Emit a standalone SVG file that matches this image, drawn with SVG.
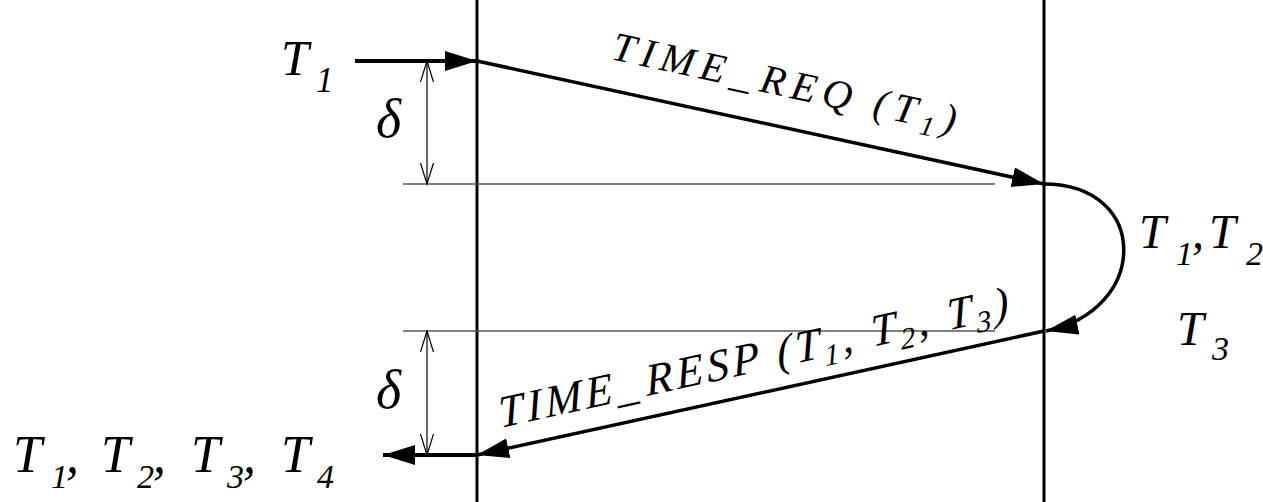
<svg xmlns="http://www.w3.org/2000/svg" width="1263" height="502" viewBox="0 0 1263 502">
<style>
.t{font-family:"Liberation Serif","Times New Roman",serif;font-style:italic;fill:#000}
.lab{font-size:41px;letter-spacing:6.5px}
.lab2{font-size:45px;letter-spacing:3.8px}
.thick{stroke:#000;stroke-width:4;fill:none}
.life{stroke:#000;stroke-width:3;fill:none}
.thin{stroke:#555;stroke-width:1.5;fill:none}
</style>
<defs>
<marker id="fa" markerUnits="userSpaceOnUse" markerWidth="34" markerHeight="22" refX="32" refY="10" orient="auto">
<path d="M0,0 L32,10 L0,20 z" fill="#000"/>
</marker>
<marker id="oa" markerUnits="userSpaceOnUse" markerWidth="24" markerHeight="16" refX="21" refY="7" orient="auto">
<path d="M0,0.5 L21,7 L0,13.5" fill="none" stroke="#000" stroke-width="1.2"/>
</marker>
<marker id="oas" markerUnits="userSpaceOnUse" markerWidth="24" markerHeight="16" refX="21" refY="7" orient="auto-start-reverse">
<path d="M0,0.5 L21,7 L0,13.5" fill="none" stroke="#000" stroke-width="1.2"/>
</marker>
</defs>
<g id="lifeline-client"><line class="life" x1="477" y1="0" x2="477" y2="502"/></g>
<g id="lifeline-server"><line class="life" x1="1044" y1="0" x2="1044" y2="502"/></g>
<g id="connectors">
<line class="thick" x1="355" y1="61" x2="477" y2="61" marker-end="url(#fa)"/>
<line class="thick" x1="477" y1="61" x2="1044" y2="184" marker-end="url(#fa)" style="stroke-width:3.5"/>
<line class="thin" x1="403" y1="184" x2="995" y2="184"/>
<line class="thin" x1="427" y1="61" x2="427" y2="184" marker-start="url(#oas)" marker-end="url(#oa)" style="stroke:#000;stroke-width:1.2"/>
<path class="thick" d="M1044,184 C1150,184 1150,310 1046,331" marker-end="url(#fa)" style="stroke-width:3.5"/>
<line class="thin" x1="403" y1="331" x2="995" y2="331"/>
<line class="thick" x1="1044" y1="331" x2="477" y2="455" marker-end="url(#fa)" style="stroke-width:3.5"/>
<line class="thick" x1="477" y1="455" x2="383" y2="455" marker-end="url(#fa)"/>
<line class="thin" x1="427" y1="331" x2="427" y2="455" marker-start="url(#oas)" marker-end="url(#oa)" style="stroke:#000;stroke-width:1.2"/>
</g>
<g id="label-t1">
<text class="t" font-size="50"><tspan x="281" y="75">T</tspan><tspan x="316" y="92" font-size="35">1</tspan></text>
</g>
<g id="delta-top"><text class="t" font-size="54" x="376" y="137">δ</text></g>
<g id="delta-bottom"><text class="t" font-size="54" x="376" y="408">δ</text></g>
<g id="label-req">
<text class="t lab" x="610" y="59" transform="rotate(12.2 610 59)">TIME_<tspan dx="3">REQ (T</tspan><tspan font-size="28" dy="8">1</tspan><tspan dy="-8">)</tspan></text>
</g>
<g id="label-resp">
<text class="t lab2" x="0" y="0" transform="translate(500 428) rotate(-12.3) skewX(-7)">TIME_<tspan dx="4">RESP (T</tspan><tspan font-size="30" dy="9">1</tspan><tspan dy="-9">, T</tspan><tspan font-size="30" dy="9">2</tspan><tspan dy="-9">, T</tspan><tspan font-size="30" dy="9">3</tspan><tspan dy="-9">)</tspan></text>
</g>
<g id="label-t1t2">
<text class="t" font-size="48"><tspan x="1139" y="248">T</tspan><tspan x="1176" y="265" font-size="34">1</tspan><tspan x="1192" y="248">,</tspan><tspan x="1209" y="248">T</tspan><tspan x="1246" y="265" font-size="34">2</tspan></text>
</g>
<g id="label-t3">
<text class="t" font-size="48"><tspan x="1177" y="345">T</tspan><tspan x="1212" y="360" font-size="34">3</tspan></text>
</g>
<g id="label-result">
<text class="t" font-size="52"><tspan x="13" y="472">T</tspan><tspan x="51" y="488" font-size="34">1</tspan><tspan x="66" y="472">,</tspan><tspan x="101" y="472">T</tspan><tspan x="137" y="488" font-size="34">2</tspan><tspan x="153" y="472">,</tspan><tspan x="191" y="472">T</tspan><tspan x="227" y="488" font-size="34">3</tspan><tspan x="243" y="472">,</tspan><tspan x="281" y="472">T</tspan><tspan x="317" y="488" font-size="34">4</tspan></text>
</g>
</svg>
